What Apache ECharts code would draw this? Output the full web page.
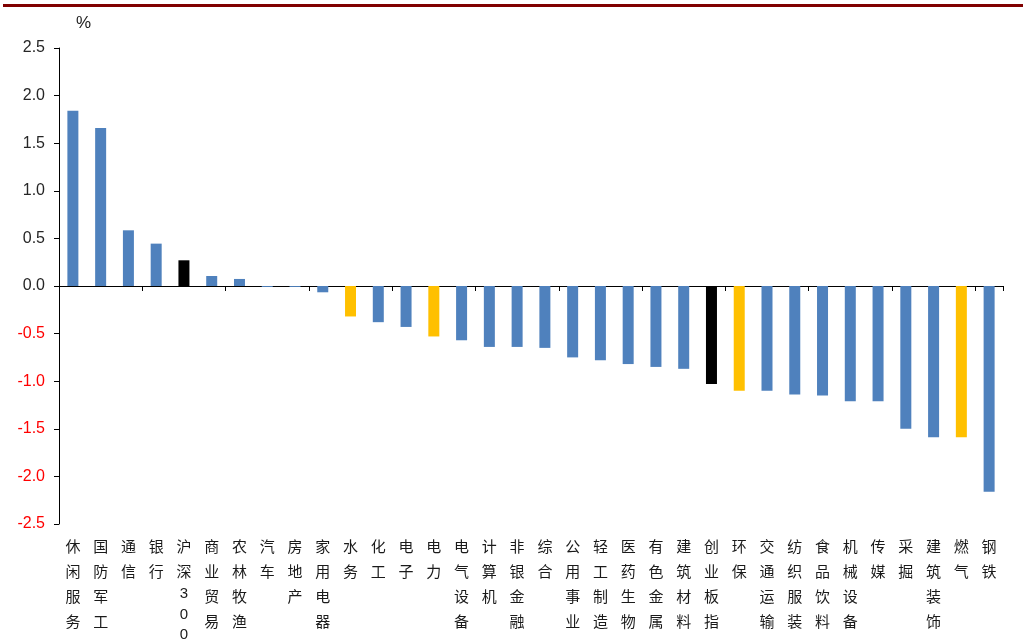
<!DOCTYPE html>
<html><head><meta charset="utf-8">
<script src="https://cdn.jsdelivr.net/npm/echarts@6/dist/echarts.min.js"></script>
<style>html,body{margin:0;padding:0;background:#fff}#c{width:1023px;height:641px}</style>
</head><body><div id="c"></div>
<script>
const categories = ['休闲服务','国防军工','通信','银行','沪深300','商业贸易','农林牧渔','汽车','房地产','家用电器','水务','化工','电子','电力','电气设备','计算机','非银金融','综合','公用事业','轻工制造','医药生物','有色金属','建筑材料','创业板指','环保','交通运输','纺织服装','食品饮料','机械设备','传媒','采掘','建筑装饰','燃气','钢铁'];
const values = [1.84,1.66,0.585,0.445,0.27,0.105,0.074,-0.01,-0.01,-0.066,-0.32,-0.38,-0.43,-0.53,-0.57,-0.64,-0.64,-0.65,-0.75,-0.78,-0.82,-0.85,-0.87,-1.03,-1.10,-1.10,-1.14,-1.15,-1.21,-1.21,-1.50,-1.59,-1.59,-2.16];
const colorGroup = ['b','b','b','b','k','b','b','b','b','b','y','b','b','y','b','b','b','b','b','b','b','b','b','k','y','b','b','b','b','b','b','b','y','b'];
const palette = {b:'#4F81BD', y:'#FFC000', k:'#000000'};
const yTicks = [-2.5,-2.0,-1.5,-1.0,-0.5,0.0,0.5,1.0,1.5,2.0,2.5];

const chart = echarts.init(document.getElementById('c'));
const font = '"Liberation Sans", Arial, sans-serif';
const cjk = '"Noto Sans CJK SC", sans-serif';
chart.setOption({
  animation:false,
  graphic:[{type:'rect',shape:{x:3,y:4,width:1020,height:3},style:{fill:'#800000'}}],
  grid:{left:59,right:20,top:48,bottom:117,containLabel:false,outerBoundsMode:'none'},
  xAxis:[{
    type:'category',data:categories,position:'bottom',
    axisLine:{onZero:true,lineStyle:{color:'#000',width:1}},
    axisTick:{show:true,inside:false,length:5,alignWithLabel:false,lineStyle:{color:'#000'}},
    axisLabel:{show:false}
  },{
    type:'category',data:categories,position:'bottom',
    axisLine:{show:false,onZero:false},axisTick:{show:false},
    axisLabel:{interval:0,margin:10,verticalAlign:'top',
      rich:{
        c:{color:'#1a1a1a',fontSize:15,lineHeight:25,fontFamily:cjk},
        d:{color:'#1a1a1a',fontSize:15,lineHeight:20.5,fontFamily:font}
      },
      formatter:v=>v.split('').map(ch=>/[0-9]/.test(ch)?'{d|'+ch+'}':'{c|'+ch+'}').join('\n')}
  }],
  yAxis:{
    type:'value',min:-2.5,max:2.5,interval:0.5,
    name:'%',nameLocation:'end',nameGap:16,
    nameTextStyle:{color:'#1a1a1a',fontSize:17,fontFamily:font,align:'left',padding:[0,0,0,17]},
    axisLine:{show:true,lineStyle:{color:'#000'}},
    axisTick:{show:true,length:5,lineStyle:{color:'#000'}},
    splitLine:{show:false},
    axisLabel:{margin:14,fontSize:16,fontFamily:font,
      formatter:v=>v.toFixed(1),
      color:v=>(v<0?'#FF0000':'#262626')}
  },
  series:[{
    type:'bar',xAxisIndex:0,barWidth:11,
    data:values.map((v,i)=>({value:v,itemStyle:{color:palette[colorGroup[i]]}}))
  }]
});
</script></body></html>
